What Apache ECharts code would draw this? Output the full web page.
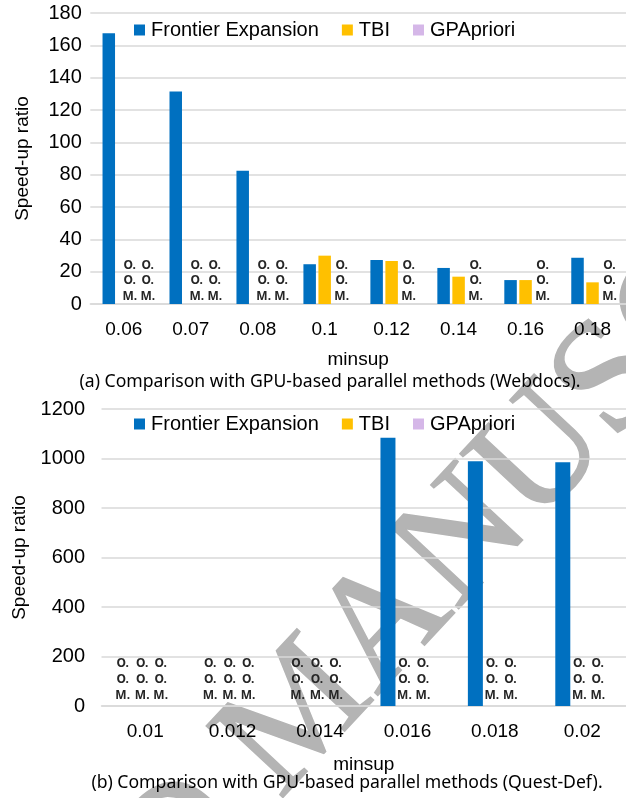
<!DOCTYPE html>
<html>
<head>
<meta charset="utf-8">
<script src="https://cdn.jsdelivr.net/npm/echarts@6/dist/echarts.min.js"></script>
<style>
  html, body { margin: 0; padding: 0; background: #fff; }
  #chart { width: 626px; height: 798px; }
</style>
</head>
<body>
<div id="chart"></div>
<script>
// Marker for runs that ran out of memory (drawn as an "O.O.M." note instead of a bar)
const OOM = 'OOM';

const seriesNames = ['Frontier Expansion', 'TBI', 'GPApriori'];

// (a) Webdocs
const webdocsMinsup = ['0.06', '0.07', '0.08', '0.1', '0.12', '0.14', '0.16', '0.18'];
const webdocsFrontier = [167.4, 131.5, 82.5, 24.6, 27.2, 22.3, 14.8, 28.6];
const webdocsTBI = [OOM, OOM, OOM, 29.9, 26.6, 16.9, 14.8, 13.4];
const webdocsGPApriori = [OOM, OOM, OOM, OOM, OOM, OOM, OOM, OOM];
const webdocsAxis = [0, 180, 20]; // min, max, step

// (b) Quest-Def
const questMinsup = ['0.01', '0.012', '0.014', '0.016', '0.018', '0.02'];
const questFrontier = [OOM, OOM, OOM, 1084, 989, 985];
const questTBI = [OOM, OOM, OOM, OOM, OOM, OOM];
const questGPApriori = [OOM, OOM, OOM, OOM, OOM, OOM];
const questAxis = [0, 1200, 200];

const captions = [
  '(a) Comparison with GPU-based parallel methods (Webdocs).',
  '(b) Comparison with GPU-based parallel methods (Quest-Def).'
];

const colors = ['#0070C0', '#FFC000', '#D5B7E8'];
const AX_FONT = 'Liberation Sans';
const CAP_FONT = 'Noto Sans';
const STAMP_FONT = '160px "Liberation Serif", serif';

function oomLabel(dx, dist, lh) {
  return {
    show: true,
    position: 'top',
    distance: dist,
    offset: [dx, 0],
    formatter: 'O.\nO.\nM.',
    fontFamily: CAP_FONT,
    fontWeight: 'bold',
    fontSize: 12,
    lineHeight: lh,
    color: '#262626'
  };
}

// Build bar data; out-of-memory cells become zero-height bars carrying the note
function buildData(values, labelShift, dist, lh, others) {
  return values.map((v, i) => {
    if (v === OOM) {
      return { value: 0, label: oomLabel(labelShift(i, others), dist, lh) };
    }
    return v;
  });
}

function makeGridSeries(gridIndex, arrays, shiftFns, dist, lh, barW, gap) {
  return arrays.map((arr, s) => ({
    name: seriesNames[s],
    type: 'bar',
    xAxisIndex: gridIndex,
    yAxisIndex: gridIndex,
    barWidth: barW,
    barGap: gap,
    z: 4,
    itemStyle: { color: colors[s] },
    data: buildData(arr, shiftFns[s], dist, lh, arrays)
  }));
}

// Label nudges: in Webdocs the paired notes sit a little to the right
const webShift = [
  () => 0,
  () => 6,
  (i, arrs) => (arrs[1][i] === OOM ? 9 : 2)
];
const questShift = [() => -3, () => -3, () => -4];

const series = []
  .concat(makeGridSeries(0, [webdocsFrontier, webdocsTBI, webdocsGPApriori], webShift, 0, 15.5, 12.5, '20%'))
  .concat(makeGridSeries(1, [questFrontier, questTBI, questGPApriori], questShift, 2, 16, 15, '30%'));

function xAxisCfg(gridIndex, cats, nameGap) {
  return {
    type: 'category',
    gridIndex: gridIndex,
    data: cats,
    z: 3,
    name: 'minsup',
    nameLocation: 'middle',
    nameGap: nameGap,
    nameTextStyle: { fontFamily: AX_FONT, fontSize: 19, color: '#000' },
    axisLine: { lineStyle: { color: '#d9d9d9', width: 1.5 } },
    axisTick: { show: false },
    axisLabel: { fontFamily: AX_FONT, fontSize: 19, color: '#000', margin: 16, interval: 0 }
  };
}

function yAxisCfg(gridIndex, range, nameGap, labelMargin) {
  return {
    type: 'value',
    gridIndex: gridIndex,
    min: range[0],
    max: range[1],
    interval: range[2],
    z: 3,
    name: 'Speed-up ratio',
    nameLocation: 'middle',
    nameGap: nameGap,
    nameTextStyle: { fontFamily: AX_FONT, fontSize: 19, color: '#000' },
    axisLine: { show: false },
    axisTick: { show: false },
    splitLine: { lineStyle: { color: '#d9d9d9', width: 1.5 } },
    axisLabel: {
      fontFamily: AX_FONT, fontSize: 20, color: '#000', margin: labelMargin,
      formatter: (v) => String(v)
    }
  };
}

function legendCfg(top) {
  return {
    data: seriesNames,
    left: 134,
    top: top,
    icon: 'rect',
    itemWidth: 11,
    itemHeight: 11,
    itemGap: 23,
    selectedMode: false,
    padding: 0,
    z: 5,
    textStyle: { fontFamily: AX_FONT, fontSize: 20, color: '#000', padding: [0, 0, 0, 1] }
  };
}

function stamp(text, align) {
  return {
    type: 'text', x: 249, y: 772, rotation: 47 * Math.PI / 180, z: 1, silent: true,
    style: {
      text: text, font: STAMP_FONT, fill: '#b4b4b4',
      stroke: '#b4b4b4', lineWidth: 1.5,
      align: align, verticalAlign: 'middle',
      textAlign: align, textVerticalAlign: 'middle'
    }
  };
}

const chart = echarts.init(document.getElementById('chart'), null, { renderer: 'canvas' });

const option = {
  animation: false,
  backgroundColor: '#fff',
  grid: [
    { left: 90.3, right: -10.7, top: 13, height: 291 },
    { left: 101.5, right: -9.5, top: 409, height: 297 }
  ],
  xAxis: [xAxisCfg(0, webdocsMinsup, 46), xAxisCfg(1, questMinsup, 49)],
  yAxis: [yAxisCfg(0, webdocsAxis, 58, 8.5), yAxisCfg(1, questAxis, 70, 16.5)],
  legend: [legendCfg(20), legendCfg(414)],
  title: [
    { text: captions[0], left: 330, top: 371, textAlign: 'center', padding: 0, z: 5,
      textStyle: { fontFamily: CAP_FONT, fontSize: 17.6, fontWeight: 'normal', color: '#000', lineHeight: 22 } },
    { text: captions[1], left: 347, top: 772, textAlign: 'center', padding: 0, z: 5,
      textStyle: { fontFamily: CAP_FONT, fontSize: 17.6, fontWeight: 'normal', color: '#000', lineHeight: 22 } }
  ],
  // Diagonal "ACCEPTED MANUSCRIPT" stamp across the page
  graphic: [stamp('MANUSCRIPT', 'left'), stamp('ACCEPTED ', 'right')],
  series: series
};

chart.setOption(option);
</script>
</body>
</html>
